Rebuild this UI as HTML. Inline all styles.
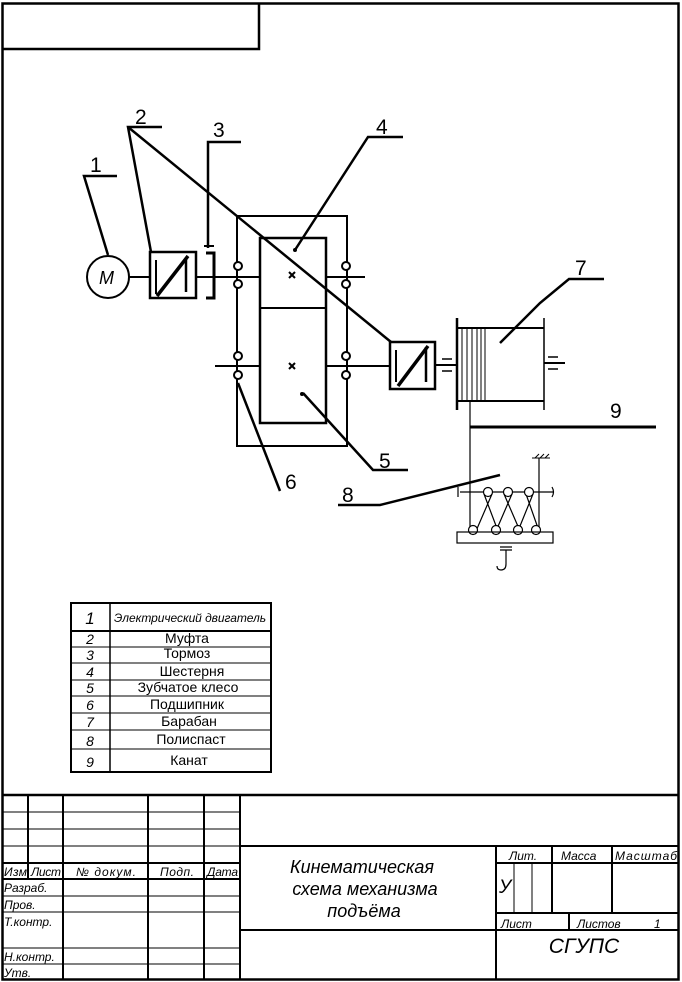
<!DOCTYPE html>
<html><head><meta charset="utf-8"><style>
html,body{margin:0;padding:0;background:#fff}
svg{display:block}
text{font-family:"Liberation Sans","DejaVu Sans",sans-serif;fill:#000}
.i{font-style:italic}
</style></head><body>
<svg width="682" height="982" viewBox="0 0 682 982" xmlns="http://www.w3.org/2000/svg">
<g fill="none" stroke="#000">
<rect x="2.5" y="3.5" width="676" height="976" stroke-width="2.5"/>
<polyline points="3,49 259,49 259,3" stroke-width="2.5"/>

<circle cx="108" cy="277" r="21" stroke-width="2"/>
<line x1="129" y1="277" x2="150" y2="277" stroke-width="2"/>
<rect x="150" y="252" width="46" height="46" stroke-width="2.5"/>
<line x1="156" y1="260" x2="156" y2="294" stroke-width="2"/>
<line x1="186" y1="258" x2="186" y2="292" stroke-width="2.5"/>
<line x1="157" y1="296" x2="188" y2="256" stroke-width="3.5"/>
<polyline points="206,253 214,253 214,298 206,298" stroke-width="3"/>
<line x1="204" y1="246" x2="214" y2="246" stroke-width="2"/>
<line x1="196" y1="277" x2="260" y2="277" stroke-width="2"/>
<line x1="326" y1="277" x2="365" y2="277" stroke-width="2"/>
<line x1="215" y1="366" x2="260" y2="366" stroke-width="2"/>
<line x1="326" y1="366" x2="390" y2="366" stroke-width="2"/>
<rect x="237" y="216" width="110" height="230" stroke-width="2"/>
<rect x="260" y="238" width="66" height="185" stroke-width="2.5" fill="#fff"/>
<line x1="260" y1="308" x2="326" y2="308" stroke-width="2"/>
<g stroke-width="2" fill="#fff">
<circle cx="238" cy="266" r="4"/><circle cx="238" cy="284" r="4"/>
<circle cx="346" cy="266" r="4"/><circle cx="346" cy="284" r="4"/>
<circle cx="238" cy="356" r="4"/><circle cx="238" cy="375" r="4"/>
<circle cx="346" cy="356" r="4"/><circle cx="346" cy="375" r="4"/>
</g>
<g stroke-width="2"><line x1="289" y1="272" x2="295" y2="278"/><line x1="295" y1="272" x2="289" y2="278"/>
<line x1="289" y1="363" x2="295" y2="369"/><line x1="295" y1="363" x2="289" y2="369"/></g>
<circle cx="302" cy="394" r="1.5" fill="#000"/>
<circle cx="295" cy="250" r="1.5" fill="#000"/>

<rect x="390" y="342" width="45" height="47" stroke-width="2.5"/>
<line x1="396" y1="350" x2="396" y2="382" stroke-width="2"/>
<line x1="426" y1="347" x2="426" y2="382" stroke-width="2.5"/>
<line x1="398" y1="386" x2="428" y2="346" stroke-width="3.5"/>
<line x1="435" y1="365" x2="457" y2="365" stroke-width="2"/>
<line x1="442" y1="359" x2="452" y2="359" stroke-width="1.5"/><line x1="442" y1="371" x2="452" y2="371" stroke-width="1.5"/>
<line x1="457" y1="318" x2="457" y2="410" stroke-width="2.5"/>
<line x1="544" y1="318" x2="544" y2="410" stroke-width="1.5"/>
<line x1="457" y1="328" x2="544" y2="328" stroke-width="2"/>
<line x1="457" y1="401" x2="544" y2="401" stroke-width="2"/>
<g stroke-width="1"><line x1="462" y1="328" x2="462" y2="401"/><line x1="467" y1="328" x2="467" y2="401"/><line x1="472" y1="328" x2="472" y2="401"/><line x1="477" y1="328" x2="477" y2="401"/><line x1="481" y1="328" x2="481" y2="401"/><line x1="485" y1="328" x2="485" y2="401"/></g>
<line x1="544" y1="363" x2="565" y2="363" stroke-width="2"/>
<line x1="548" y1="357" x2="558" y2="357" stroke-width="1.5"/><line x1="548" y1="369" x2="558" y2="369" stroke-width="1.5"/>
<line x1="470" y1="401" x2="470" y2="531" stroke-width="1.2"/>
<line x1="470" y1="427" x2="656" y2="427" stroke-width="3"/>
<line x1="460" y1="492" x2="553" y2="492" stroke-width="1.2"/>
<path d="M458,487 v10 M552,487 q3,5 0,10" stroke-width="1.2"/>
<line x1="539" y1="458" x2="539" y2="531" stroke-width="1.2"/>
<path d="M532,458 h18 M535,458 l4,-4 M540,458 l4,-4 M545,458 l4,-4" stroke-width="1"/>
<g stroke-width="1.2" fill="#fff">
<path d="M484,494 L498,531 M492,494 L476,531 M504,494 L520,531 M512,494 L496,531 M526,494 L539,531 M533,494 L518,531"/>
<circle cx="488" cy="492" r="4.5"/><circle cx="508" cy="492" r="4.5"/><circle cx="529" cy="492" r="4.5"/>
<circle cx="473" cy="530" r="4.5"/><circle cx="496" cy="530" r="4.5"/><circle cx="518" cy="530" r="4.5"/><circle cx="536" cy="530" r="4.5"/>
</g>
<rect x="457" y="532" width="96" height="11" stroke-width="1.2"/>
<path d="M500,547 h12 M500,550 h12 M506,550 v14 q0,6 -5,6 q-4,0 -4,-4" stroke-width="1.2"/>

<g stroke-width="2.5">
<polyline points="117,176 84,176 108,255"/>
<polyline points="162,127 128,127 151,252"/>
<line x1="128" y1="127" x2="391" y2="342"/>
<polyline points="241,142 208,142 208,248"/>
<polyline points="403,137 368,137 295,250"/>
<polyline points="303,393 373,470 408,470"/>
<line x1="238" y1="383" x2="280" y2="491"/>
<polyline points="500,343 540,303 569,279 604,279"/>
<polyline points="338,505 380,505 500,475"/>
</g>
</g>
<g font-size="21">
<text x="90" y="172">1</text><text x="135" y="124">2</text><text x="213" y="137">3</text><text x="376" y="134">4</text>
<text x="379" y="468">5</text><text x="285" y="489">6</text><text x="575" y="275">7</text><text x="342" y="502">8</text><text x="610" y="418">9</text>
</g>
<text x="99" y="284" font-size="18" class="i">M</text>

<g fill="none" stroke="#000">
<rect x="71" y="603" width="200" height="169" stroke-width="2"/>
<line x1="110" y1="603" x2="110" y2="772" stroke-width="1.5"/>
<line x1="71" y1="631" x2="271" y2="631" stroke-width="2"/>
<g stroke-width="1"><line x1="71" y1="647" x2="271" y2="647"/><line x1="71" y1="663" x2="271" y2="663"/><line x1="71" y1="680" x2="271" y2="680"/><line x1="71" y1="696" x2="271" y2="696"/><line x1="71" y1="713" x2="271" y2="713"/><line x1="71" y1="730" x2="271" y2="730"/><line x1="71" y1="749" x2="271" y2="749"/></g>
</g>
<g font-size="14" class="i" text-anchor="middle">
<text x="90" y="624" font-size="17">1</text><text x="90" y="644">2</text><text x="90" y="660">3</text><text x="90" y="677">4</text><text x="90" y="693">5</text><text x="90" y="710">6</text><text x="90" y="727">7</text><text x="90" y="746">8</text><text x="90" y="767">9</text>
</g>
<text x="190" y="622" font-size="12" class="i" text-anchor="middle" textLength="152">Электрический двигатель</text>
<g font-size="14" text-anchor="middle">
<text x="187" y="643">Муфта</text><text x="187" y="658">Тормоз</text><text x="192" y="676">Шестерня</text><text x="188" y="692">Зубчатое клесо</text><text x="187" y="709">Подшипник</text><text x="189" y="726">Барабан</text><text x="191" y="744">Полиспаст</text><text x="189" y="765">Канат</text>
</g>

<g fill="none" stroke="#000">
<line x1="2" y1="795" x2="679" y2="795" stroke-width="2.5"/>
<g stroke-width="1"><line x1="2" y1="812" x2="240" y2="812"/><line x1="2" y1="829" x2="240" y2="829"/><line x1="2" y1="846" x2="240" y2="846"/><line x1="2" y1="896" x2="240" y2="896"/><line x1="2" y1="912" x2="240" y2="912"/><line x1="2" y1="948" x2="240" y2="948"/><line x1="2" y1="964" x2="240" y2="964"/></g>
<line x1="2" y1="863" x2="240" y2="863" stroke-width="2"/>
<line x1="2" y1="879" x2="240" y2="879" stroke-width="2"/>
<line x1="28" y1="795" x2="28" y2="879" stroke-width="2"/>
<line x1="63" y1="795" x2="63" y2="979" stroke-width="2"/>
<line x1="148" y1="795" x2="148" y2="979" stroke-width="2"/>
<line x1="204" y1="795" x2="204" y2="979" stroke-width="2"/>
<line x1="240" y1="795" x2="240" y2="979" stroke-width="2"/>
<line x1="240" y1="846" x2="679" y2="846" stroke-width="2"/>
<line x1="240" y1="930" x2="679" y2="930" stroke-width="2"/>
<line x1="496" y1="846" x2="496" y2="979" stroke-width="2"/>
<line x1="496" y1="863" x2="679" y2="863" stroke-width="2"/>
<line x1="496" y1="913" x2="679" y2="913" stroke-width="2"/>
<line x1="552" y1="846" x2="552" y2="913" stroke-width="2"/>
<line x1="612" y1="846" x2="612" y2="913" stroke-width="2"/>
<line x1="514" y1="863" x2="514" y2="913" stroke-width="1"/>
<line x1="532" y1="863" x2="532" y2="913" stroke-width="1"/>
<line x1="569" y1="913" x2="569" y2="930" stroke-width="2"/>
</g>
<g font-size="12" class="i">
<text x="4" y="876" textLength="23">Изм</text><text x="31" y="876" textLength="30">Лист</text><text x="76" y="876" textLength="60">№ докум.</text><text x="160" y="876" textLength="34">Подп.</text><text x="207" y="876" textLength="31">Дата</text>
<text x="4" y="892">Разраб.</text><text x="4" y="909">Пров.</text><text x="4" y="926">Т.контр.</text><text x="4" y="961">Н.контр.</text><text x="4" y="977">Утв.</text>
<text x="509" y="860">Лит.</text><text x="561" y="860">Масса</text><text x="615" y="860" textLength="62">Масштаб</text>
<text x="501" y="928">Лист</text><text x="577" y="928">Листов</text><text x="654" y="928">1</text>
</g>
<text x="499" y="893" font-size="19" class="i">У</text>
<g font-size="18" class="i" text-anchor="middle">
<text x="362" y="873">Кинематическая</text><text x="365" y="895">схема механизма</text><text x="364" y="917">подъёма</text>
</g>
<text x="584" y="953" font-size="21" class="i" text-anchor="middle">СГУПС</text>
</svg>
</body></html>
